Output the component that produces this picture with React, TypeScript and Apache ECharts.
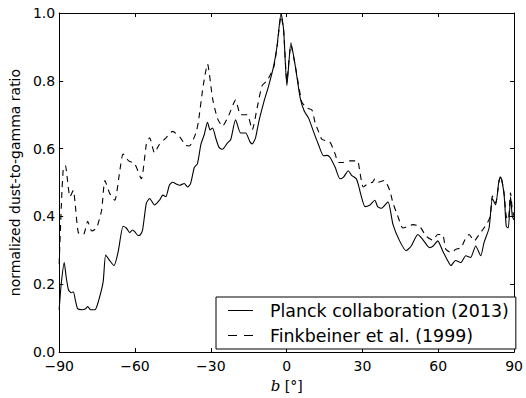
import React, { useEffect, useRef } from "react";
import * as echarts from "echarts";

const bPlanck = [-90, -89.2, -88, -87.2, -86.3, -85.2, -84.4, -83.5, -82.7, -81, -79.5, -78.7, -77.5, -75.8, -74.5, -72.6, -71.6, -70, -68.3, -66.7, -64.7, -63.4, -62.1, -61, -60.1, -58.8, -58, -57, -55.5, -54.2, -52.3, -50.3, -49, -47.8, -46.4, -45.1, -43.5, -42.4, -40.5, -39.2, -38, -36.5, -35.3, -33.9, -32.6, -31.3, -30.3, -29.3, -28, -26.7, -25.4, -23.4, -22.1, -20.2, -18.2, -16.2, -14.5, -13.6, -12.3, -11, -9, -7.1, -5.1, -3.8, -2.2, -1.2, 0.1, 1.7, 3.4, 5.4, 7, 8.7, 10.6, 12.6, 14.6, 16, 17.2, 19.2, 21.1, 22.5, 24.4, 25.7, 27.6, 28.5, 29.6, 31, 33, 34.9, 36, 37.5, 40.1, 42.1, 44.7, 47.3, 49.3, 51.9, 53.9, 56.5, 58, 59.8, 61.7, 63.7, 65, 66.8, 68.9, 70.9, 72.8, 74.8, 76.8, 78.1, 80.1, 81.4, 82.7, 84, 84.7, 86, 86.9, 87.7, 88.6, 89.3, 90];
const planck = [0.125, 0.2, 0.264, 0.22, 0.183, 0.175, 0.178, 0.15, 0.128, 0.125, 0.128, 0.134, 0.125, 0.125, 0.149, 0.207, 0.286, 0.27, 0.255, 0.294, 0.371, 0.366, 0.352, 0.36, 0.355, 0.344, 0.345, 0.36, 0.439, 0.453, 0.434, 0.448, 0.463, 0.458, 0.492, 0.501, 0.495, 0.492, 0.497, 0.487, 0.497, 0.545, 0.555, 0.613, 0.641, 0.678, 0.655, 0.661, 0.63, 0.603, 0.598, 0.617, 0.627, 0.685, 0.646, 0.646, 0.62, 0.614, 0.632, 0.68, 0.738, 0.786, 0.845, 0.902, 0.999, 0.951, 0.786, 0.912, 0.845, 0.748, 0.71, 0.69, 0.651, 0.612, 0.579, 0.58, 0.574, 0.545, 0.511, 0.516, 0.535, 0.521, 0.511, 0.49, 0.458, 0.429, 0.434, 0.448, 0.429, 0.424, 0.443, 0.376, 0.328, 0.299, 0.313, 0.347, 0.332, 0.308, 0.313, 0.328, 0.299, 0.27, 0.255, 0.27, 0.264, 0.284, 0.279, 0.313, 0.284, 0.323, 0.366, 0.453, 0.434, 0.506, 0.516, 0.468, 0.371, 0.366, 0.458, 0.4, 0.39];

const bFink = [-90, -89, -88.3, -87.5, -87, -85.7, -84.4, -83.7, -82.4, -80.4, -78.7, -77.1, -75.2, -73.2, -71.9, -70, -68, -66, -64.7, -62.5, -60.1, -57.5, -55.5, -54.2, -52.3, -50.3, -47.7, -45.1, -42, -40, -38.5, -35.9, -34.9, -33, -31.3, -29.3, -27.4, -25.4, -22.8, -20.2, -18.2, -15.6, -13.6, -11.7, -9.7, -7.7, -5.1, -3.8, -2.2, -1.2, 0.1, 1.7, 3.4, 6, 8, 10, 11.3, 12.6, 14, 16.5, 17.5, 19.2, 20.5, 22, 25, 28, 29, 30.3, 32.3, 34, 34.9, 36.2, 38.6, 40.8, 42.1, 43.8, 46, 48, 49.9, 52.6, 55.2, 57.8, 59.8, 61.7, 63, 65, 67, 69, 70.9, 72.2, 74.2, 76.2, 78.1, 79.4, 80.6, 81.4, 82.7, 84, 84.7, 86, 86.9, 87.7, 88.6, 89.3, 90];
const fink = [0.26, 0.458, 0.545, 0.55, 0.525, 0.458, 0.477, 0.44, 0.352, 0.347, 0.386, 0.357, 0.366, 0.419, 0.506, 0.468, 0.448, 0.535, 0.584, 0.564, 0.555, 0.511, 0.613, 0.632, 0.588, 0.613, 0.632, 0.651, 0.632, 0.61, 0.608, 0.646, 0.68, 0.786, 0.849, 0.748, 0.69, 0.666, 0.7, 0.743, 0.7, 0.7, 0.656, 0.719, 0.786, 0.801, 0.84, 0.9, 0.99, 0.95, 0.8, 0.905, 0.845, 0.738, 0.72, 0.714, 0.675, 0.651, 0.627, 0.622, 0.615, 0.584, 0.559, 0.559, 0.564, 0.564, 0.53, 0.487, 0.497, 0.501, 0.511, 0.501, 0.506, 0.477, 0.439, 0.405, 0.366, 0.371, 0.376, 0.371, 0.342, 0.33, 0.347, 0.347, 0.303, 0.294, 0.303, 0.308, 0.337, 0.347, 0.328, 0.347, 0.366, 0.381, 0.4, 0.46, 0.44, 0.5, 0.52, 0.47, 0.4, 0.39, 0.47, 0.42, 0.4];

const seriesNames = ["Planck collaboration (2013)", "Finkbeiner et al. (1999)"];
const xTicks = { min: -90, max: 90, interval: 30 };
const yTicks = { min: 0, max: 1, interval: 0.2 };

const FONT = "DejaVu Sans";

export default function App() {
  const ref = useRef<HTMLDivElement>(null);
  useEffect(() => {
    if (!ref.current) return;
    const chart = echarts.init(ref.current, null, { renderer: "svg" });
    const fmtX = (v: number) => (v < 0 ? "\u2212" + Math.abs(v) : String(v));
    const fmtY = (v: number) => v.toFixed(1);
    const tickStyle = { show: true, inside: true, length: 4, lineStyle: { color: "#000", width: 1 } };
    const lineStyle = { show: true, onZero: false, lineStyle: { color: "#000", width: 1 } };
    chart.setOption({
      animation: false,
      backgroundColor: "#fff",
      grid: { left: 59, right: 9, top: 13, bottom: 40 },
      legend: {
        orient: "vertical",
        left: 216,
        top: 297,
        padding: [5, 7, 5, 12],
        itemGap: 8,
        itemWidth: 37,
        itemHeight: 1.3,
        borderColor: "#000",
        borderWidth: 1,
        borderRadius: 0,
        backgroundColor: "#fff",
        textStyle: { fontFamily: FONT, fontSize: 17.4, color: "#000" },
        data: [
          { name: seriesNames[0], icon: "path://M37,0M0,0h25v1h-25z" },
          { name: seriesNames[1], icon: "path://M37,0M0,0h9v1h-9zM16,0h9v1h-9z" },
        ],
      },
      xAxis: [
        {
          type: "value",
          ...xTicks,
          position: "bottom",
          axisLine: lineStyle,
          axisTick: tickStyle,
          splitLine: { show: false },
          axisLabel: { formatter: fmtX, fontFamily: FONT, fontSize: 14, color: "#000", margin: 7 },
          name: "{i|b} [\u00b0]",
          nameLocation: "middle",
          nameGap: 20,
          nameTextStyle: {
            fontFamily: "DejaVu Serif",
            fontSize: 14,
            color: "#000",
            rich: { i: { fontFamily: "DejaVu Serif", fontStyle: "italic", fontSize: 15, color: "#000" } },
          },
        },
        {
          type: "value",
          ...xTicks,
          position: "top",
          axisLine: lineStyle,
          axisTick: tickStyle,
          splitLine: { show: false },
          axisLabel: { show: false },
        },
      ],
      yAxis: [
        {
          type: "value",
          ...yTicks,
          position: "left",
          axisLine: lineStyle,
          axisTick: tickStyle,
          splitLine: { show: false },
          axisLabel: { formatter: fmtY, fontFamily: FONT, fontSize: 14, color: "#000", margin: 4 },
          name: "normalized dust-to-gamma ratio",
          nameLocation: "middle",
          nameGap: 33,
          nameTextStyle: { fontFamily: FONT, fontSize: 14, color: "#000" },
        },
        {
          type: "value",
          ...yTicks,
          position: "right",
          axisLine: lineStyle,
          axisTick: tickStyle,
          splitLine: { show: false },
          axisLabel: { show: false },
        },
      ],
      series: [
        {
          name: seriesNames[0],
          type: "line",
          showSymbol: false,
          smooth: 0.2,
          data: bPlanck.map((b, i) => [b, planck[i]]),
          lineStyle: { color: "#000", width: 1.1 },
          itemStyle: { color: "#000" },
        },
        {
          name: seriesNames[1],
          type: "line",
          showSymbol: false,
          smooth: 0.2,
          data: bFink.map((b, i) => [b, fink[i]]),
          lineStyle: { color: "#000", width: 1.1, type: [6, 5] },
          itemStyle: { color: "#000" },
        },
      ],
    });
    return () => chart.dispose();
  }, []);
  return <div ref={ref} style={{ width: 526, height: 398, position: "absolute", left: 0, top: 0 }} />;
}
